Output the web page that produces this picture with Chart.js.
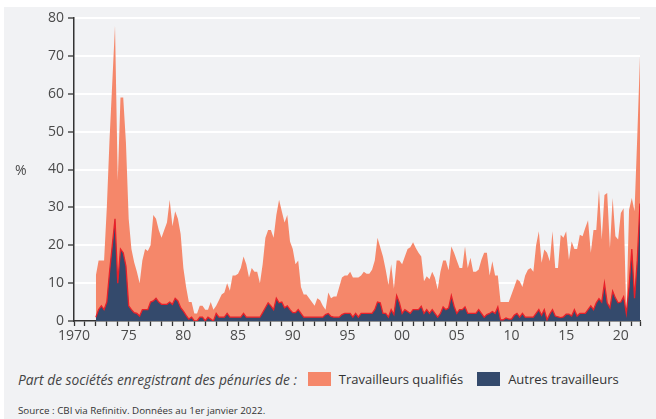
<!DOCTYPE html>
<html lang="fr">
<head>
<meta charset="utf-8">
<script src="https://cdn.jsdelivr.net/npm/chart.js@4.4.1/dist/chart.umd.min.js"></script>
<style>
  html, body { margin:0; padding:0; background:#ffffff; }
  body { width:656px; height:419px; position:relative; overflow:hidden; font-family:"Open Sans", sans-serif; }
  #panel { position:absolute; left:4px; top:7px; width:652px; height:412px; background:#f1f2f4; }
  #c { position:absolute; left:0; top:0; }
  #pct { position:absolute; left:15px; top:160px; font-size:14px; color:#4a4a4a; }
  #legend { position:absolute; left:18px; top:370px; height:18px; font-size:13px; color:#333; white-space:nowrap; display:flex; align-items:center; }
  #legend .lead { font-style:italic; color:#444; font-size:13.8px; margin-right:11px; }
  #legend .box { display:inline-block; width:23px; height:14px; margin-right:8px; }
  #legend .item { margin-right:14px; }
  #source { position:absolute; left:18px; top:404px; font-size:9.8px; color:#333; white-space:nowrap; }
</style>
</head>
<body>
<div id="panel"></div>
<canvas id="c" width="656" height="361"></canvas>
<div id="pct">%</div>
<div id="legend">
  <span class="lead">Part de sociétés enregistrant des pénuries de :</span>
  <span class="box" style="background:#f5876a"></span><span class="item">Travailleurs qualifiés</span>
  <span class="box" style="background:#344a6c"></span><span class="item">Autres travailleurs</span>
</div>
<div id="source">Source : CBI via Refinitiv. Données au 1er janvier 2022.</div>
<script>
// Quarterly survey dates: 1972 Q1 ... 2021 Q4
const firstYear = 1972;
const lastYear = 2021;

// Share of firms reporting shortages of skilled workers (%), four quarters per row
const skilledWorkers = [
  12, 16, 16, 16,        // 1972
  30, 48, 63, 78,        // 1973
  37, 59, 59, 47,        // 1974
  27, 19, 15.5, 13,      // 1975
  10, 16, 19, 18.5,      // 1976
  20, 28, 27, 24,        // 1977
  22, 24, 26, 32,        // 1978
  25, 29, 27, 23,        // 1979
  14, 9, 5, 5,           // 1980
  2, 2, 4, 4,            // 1981
  3, 3, 5, 3,            // 1982
  4, 5.5, 7, 7.5,        // 1983
  10, 8, 12, 12,         // 1984
  12.5, 14, 17, 15,      // 1985
  11.5, 14, 13, 13,      // 1986
  10, 15, 22, 24,        // 1987
  24, 22, 28, 32,        // 1988
  29, 26, 28, 21,        // 1989
  19, 15, 16, 9,         // 1990
  7, 7, 6, 5,            // 1991
  4, 6, 5.5, 4,          // 1992
  3, 7.5, 6, 6.5,        // 1993
  6.5, 9, 11.5, 12,      // 1994
  12, 13, 11.5, 11.5,    // 1995
  11.5, 12, 13, 12.5,    // 1996
  12.5, 13.5, 16, 22,    // 1997
  19.5, 17, 13.5, 9.5,   // 1998
  15, 8.5, 16, 16,       // 1999
  15, 17, 19, 19.5,      // 2000
  20.8, 19.3, 18, 17,    // 2001
  10.5, 11.8, 11, 13,    // 2002
  11.4, 8.3, 13, 16,     // 2003
  16, 13.4, 19.7, 18,    // 2004
  16, 14, 14, 19.7,      // 2005
  14, 16.7, 13, 13,      // 2006
  13.6, 16.2, 18, 18,    // 2007
  12, 15.8, 12, 12,      // 2008
  5, 5, 5, 5,            // 2009
  7, 9, 11, 10.5,        // 2010
  9, 12, 13.5, 14,       // 2011
  13, 20, 23.7, 15.4,    // 2012
  18.9, 18, 15.8, 23.7,  // 2013
  14, 14, 22.8, 22,      // 2014
  23.7, 16.2, 21, 19,    // 2015
  19, 22.8, 22.4, 24.6,  // 2016
  26.6, 18, 24, 24,      // 2017
  34.6, 21.5, 33.3, 33.8,// 2018
  19.3, 32.5, 22.4, 21.5,// 2019
  28.5, 29.8, 2, 29.4,   // 2020
  32.5, 29, 48.7, 70     // 2021
];

// Share of firms reporting shortages of other workers (%)
const otherWorkers = [
  1, 3, 4, 3,            // 1972
  5, 13, 20, 27,         // 1973
  10, 19, 18, 14.5,      // 1974
  4, 3, 2.2, 2,          // 1975
  1.3, 3, 3, 3,          // 1976
  5, 5.3, 6, 5,          // 1977
  4.4, 4.4, 4.4, 5,      // 1978
  4.4, 6, 5.3, 3.5,      // 1979
  2.6, 1.5, 0.5, 1,      // 1980
  0, 0, 1, 1,            // 1981
  0, 1, 0.5, 0,          // 1982
  2, 1, 1, 1,            // 1983
  2, 1, 1, 1,            // 1984
  1, 1, 2, 1,            // 1985
  1, 1, 1, 1,            // 1986
  1, 2.2, 3.5, 4.8,      // 1987
  4, 3, 6, 4.8,          // 1988
  5, 3.5, 4, 3,          // 1989
  2.2, 2.2, 3, 2,        // 1990
  1, 1, 1, 1,            // 1991
  1, 1, 1, 1,            // 1992
  1.7, 2, 1.2, 1,        // 1993
  1, 1, 1.7, 2,          // 1994
  2, 2, 1, 2,            // 1995
  1, 2, 2, 2,            // 1996
  2, 2, 3, 5,            // 1997
  4.8, 2, 2, 1,          // 1998
  3, 1.7, 6.7, 4.8,      // 1999
  2, 3, 2.5, 2,          // 2000
  3, 3, 3, 3.9,          // 2001
  2, 3, 2, 3,            // 2002
  2, 1, 2, 3.7,          // 2003
  3, 3.4, 6.7, 3.9,      // 2004
  2, 3, 3, 3.7,          // 2005
  2, 2, 2, 2,            // 2006
  3, 2, 1, 1.7,          // 2007
  2, 2.5, 2, 3.7,        // 2008
  0.3, 0.3, 0.8, 0.5,    // 2009
  0.5, 1.5, 2, 1,        // 2010
  2, 1, 1, 1,            // 2011
  1, 2, 3, 1.5,          // 2012
  3, 0.3, 1.8, 3,        // 2013
  1.3, 1.1, 0.9, 1.1,    // 2014
  1.8, 1.8, 1.3, 3,      // 2015
  1.3, 2, 2, 2,          // 2016
  3, 4, 3, 4.8,          // 2017
  5.9, 5, 10, 4.8,       // 2018
  3.5, 7.9, 6.1, 4.8,    // 2019
  5, 6.4, 2, 9,          // 2020
  19, 6, 16, 31          // 2021
];

// Axis tick labels for the x axis (every 5 years)
const xTickLabels = { 1970:'1970', 1975:'75', 1980:'80', 1985:'85', 1990:'90', 1995:'95',
                      2000:'00', 2005:'05', 2010:'10', 2015:'15', 2020:'20' };
const yTicks = [0, 10, 20, 30, 40, 50, 60, 70, 80];

// Quarter positions (decimal years)
const quarterDates = [];
for (let y = firstYear; y <= lastYear; y++) {
  for (let q = 0; q < 4; q++) quarterDates.push(y + q / 4);
}
const toPoints = arr => arr.map((v, i) => ({ x: quarterDates[i], y: v }));

const tickFont = { family: '"Open Sans", sans-serif', size: 14 };

new Chart(document.getElementById('c'), {
  type: 'line',
  data: {
    datasets: [
      {
        label: 'Autres travailleurs',
        data: toPoints(otherWorkers),
        backgroundColor: '#344a6c',
        borderColor: '#e8202a',
        borderWidth: 1.3,
        fill: 'origin',
        pointRadius: 0,
        tension: 0,
        order: 0
      },
      {
        label: 'Travailleurs qualifiés',
        data: toPoints(skilledWorkers),
        backgroundColor: '#f5876a',
        borderColor: '#f5876a',
        borderWidth: 0,
        fill: 'origin',
        pointRadius: 0,
        tension: 0,
        order: 1
      }
    ]
  },
  options: {
    responsive: false,
    animation: false,
    devicePixelRatio: 1,
    layout: { padding: { left: 0, right: 16, top: 18, bottom: 0 } },
    plugins: { legend: { display: false }, tooltip: { enabled: false } },
    scales: {
      x: {
        type: 'linear',
        min: 1970,
        max: 2021.75,
        afterFit: s => { s.height = 40; },
        afterBuildTicks: s => {
          const t = [];
          for (let y = 1970; y <= 2021; y++) t.push({ value: y });
          t.push({ value: 2021.75 });
          s.ticks = t;
        },
        grid: { drawOnChartArea: false, drawTicks: true, tickLength: 5, tickColor: '#333', tickWidth: 1.3 },
        border: { display: true, color: '#333', width: 1.5 },
        ticks: {
          autoSkip: false,
          maxRotation: 0,
          padding: 2,
          color: '#4a4a4a',
          font: tickFont,
          callback: v => xTickLabels[v] || ''
        }
      },
      y: {
        min: 0,
        max: 80,
        afterFit: s => { s.width = 74; },
        afterBuildTicks: s => { s.ticks = yTicks.map(v => ({ value: v })); },
        grid: {
          color: ctx => (ctx.tick && ctx.tick.value === 0) ? 'rgba(0,0,0,0)' : '#ffffff',
          lineWidth: 2,
          drawTicks: true,
          tickLength: 6,
          tickColor: '#333',
          tickWidth: 1.3
        },
        border: { display: true, color: '#333', width: 1.5 },
        ticks: { padding: 4, color: '#4a4a4a', font: tickFont }
      }
    }
  }
});
</script>
</body>
</html>
